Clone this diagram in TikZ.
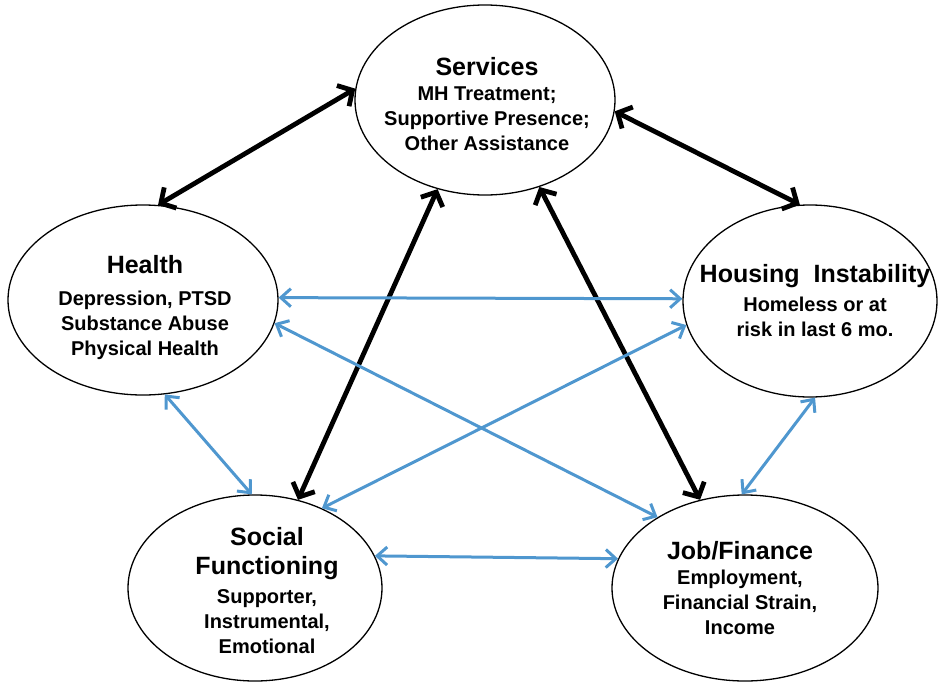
\documentclass[tikz,border=0pt]{standalone}
\usepackage{fontspec}
\setmainfont{Liberation Sans}
\usetikzlibrary{shapes.geometric,arrows.meta}
\definecolor{linkblue}{RGB}{79,151,207}
\newcommand\headsize{\fontsize{25}{29}\selectfont}
\newcommand\bodysize{\fontsize{20}{25}\selectfont}
\begin{document}
\begin{tikzpicture}[x=1pt,y=-1pt,
  bubble/.style={ellipse, draw, line width=1.3pt, inner sep=0pt},
  caption/.style={align=center, inner sep=0pt, font=\bfseries\bodysize},
  strong/.style={line width=4.8pt, {Straight Barb[length=11pt,width=24pt]}-{Straight Barb[length=11pt,width=24pt]}},
  weak/.style={draw=linkblue, line width=3pt, {Straight Barb[length=10pt,width=18pt]}-{Straight Barb[length=10pt,width=18pt]}}]
\useasboundingbox (0,0) rectangle (938,683);

% the five domains
\node[bubble, minimum width=260pt, minimum height=190pt] (svc) at (485,100) {};
\node[bubble, minimum width=270pt, minimum height=190pt] (hlt) at (143,300) {};
\node[bubble, minimum width=254pt, minimum height=192pt] (hou) at (810,301) {};
\node[bubble, minimum width=254pt, minimum height=186pt] (soc) at (255,588) {};
\node[bubble, minimum width=266pt, minimum height=186pt] (job) at (745,588) {};

% their labels
\node[caption] (svc-t) at (487,104) {{\headsize Services}\\MH Treatment;\\Supportive Presence;\\Other Assistance};
\node[caption] (hlt-t) at (145,308) {{\headsize Health}\\[7pt]Depression, PTSD\\Substance Abuse\\Physical Health};
\node[caption] (hou-t) at (815,301) {{\headsize Housing\ \ Instability}\\[4pt]Homeless or at\\risk in last 6 mo.};
\node[caption] (soc-t) at (267,591) {{\headsize Social}\\[4pt]{\headsize Functioning}\\[4pt]Supporter,\\Instrumental,\\Emotional};
\node[caption] (job-t) at (740,588) {{\headsize Job/Finance}\\Employment,\\Financial Strain,\\Income};

% links to services
\draw[strong] (hlt.81) -- (svc.175);
\draw[strong] (svc.-5) -- (hou.96);
\draw[strong] (svc.-118) -- (soc.64);
\draw[strong] (svc.-58) -- (job.117);

% links among the other domains
\draw[weak] (hlt.1) -- (hou.179);
\draw[weak] (hlt.-10) -- (job.141);
\draw[weak] (hou.-169) -- (soc.50);
\draw[weak] (hlt.-77) -- (soc.92);
\draw[weak] (hou.-87) -- (job.92);
\draw[weak] (soc.15) -- (job.167);
\end{tikzpicture}
\end{document}
